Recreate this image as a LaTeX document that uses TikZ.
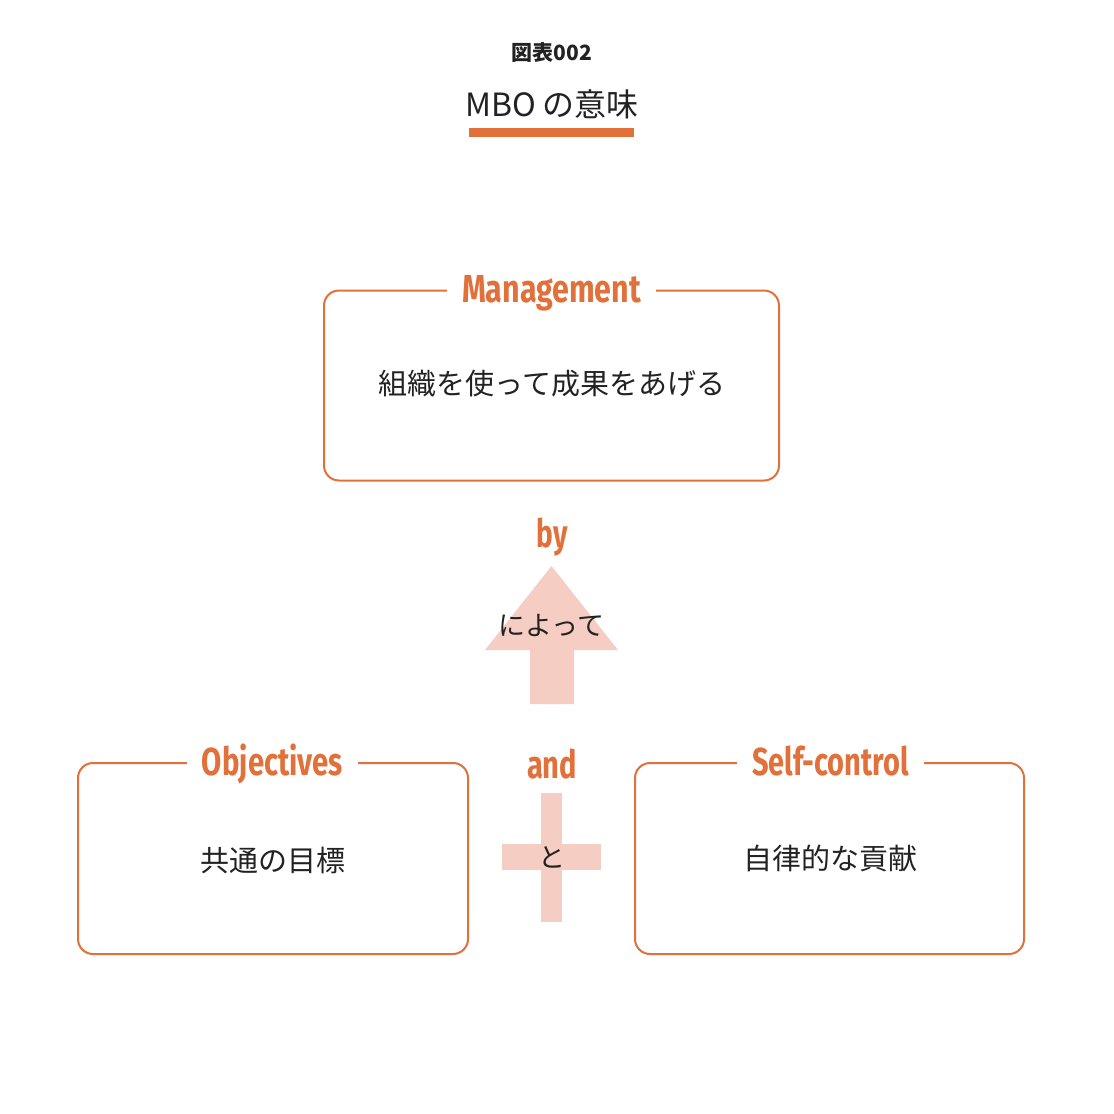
\documentclass[tikz,border=0pt]{standalone}
\usepackage{fontspec}
\usepackage{graphicx}
\setmainfont{Noto Sans CJK JP}
\newfontfamily\lat{Fira Sans}
\definecolor{orng}{HTML}{E2703A}
\definecolor{pinkf}{HTML}{F6CDC3}
\definecolor{ink}{HTML}{222222}
\newcommand{\ttlw}[2]{\resizebox{#1}{\height}{\lat\bfseries #2}}
\begin{document}
\begin{tikzpicture}[x=0.5pt,y=-0.5pt,
  box/.style={draw=orng, line width=1pt, rounded corners=7.5pt, fill=none, inner sep=0pt},
  ttl/.style={fill=white, text=orng, inner xsep=7.5pt, inner ysep=1pt, anchor=base, font=\fontsize{19.5}{22}\selectfont},
  body/.style={text=ink, inner sep=0pt, font=\fontsize{14.5}{17}\selectfont},
  conn/.style={text=orng, inner sep=0pt, anchor=base, font=\fontsize{19.5}{22}\selectfont},
  mid/.style={text=ink, inner sep=0pt, font=\fontsize{13.5}{16}\selectfont},
  shp/.style={fill=pinkf, draw=none}]
\useasboundingbox (0,0) rectangle (1114,1114);
% title
\node[text=ink, inner sep=0pt, font=\fontsize{10.5}{12}\selectfont\bfseries] (fig) at (552,52) {図表002};
\node[text=ink, inner sep=0pt, font=\fontsize{16}{19}\selectfont] (title) at (552,104) {MBO の意味};
\fill[orng] (469,128) rectangle (634,137);
% boxes
\node[box, minimum width=227.5pt, minimum height=95pt] (mgmt) at (551.5,385.5) {};
\node[box, minimum width=195pt, minimum height=95.5pt] (obj) at (273,858.5) {};
\node[box, minimum width=194.5pt, minimum height=95.5pt] (self) at (829.5,858.5) {};
% box titles
\node[ttl] (mgmtT) at (551.5,302) {\ttlw{89.5pt}{Management}};
\node[ttl] (objT) at (272.5,775) {\ttlw{70.5pt}{Objectives}};
\node[ttl] (selfT) at (830.5,775) {\ttlw{78.5pt}{Self-control}};
% bodies
\node[body] (mgmtB) at (552,383.5) {組織を使って成果をあげる};
\node[body] (objB) at (272.5,860) {共通の目標};
\node[body] (selfB) at (830.5,858) {自律的な貢献};
% arrow
\fill[shp] (551.5,566) -- (618,650) -- (574,650) -- (574,704) -- (530,704) -- (530,650) -- (485,650) -- cycle;
\node[conn] (by) at (552,547) {\ttlw{15.5pt}{by}};
\node[mid] (yotte) at (551.5,626) {によって};
% plus
\fill[shp] (541,793) rectangle (562,922);
\fill[shp] (502,844) rectangle (601,870);
\node[conn] (and) at (552,778) {\ttlw{25pt}{and}};
\node[mid] (to) at (551.5,857) {と};
\end{tikzpicture}
\end{document}
